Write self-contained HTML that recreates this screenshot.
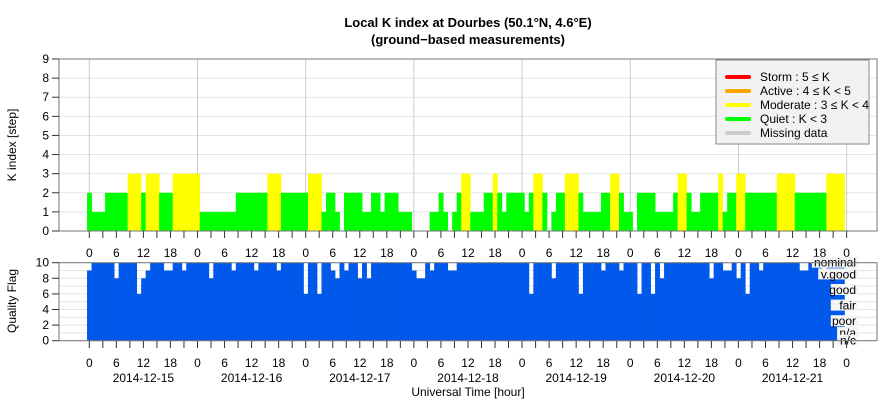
<!DOCTYPE html>
<html><head><meta charset="utf-8"><style>
body{margin:0;background:#fff}
svg{display:block;font-family:"Liberation Sans",sans-serif}
</style></head><body>
<svg id="chart" width="886" height="400" viewBox="0 0 886 400" xmlns="http://www.w3.org/2000/svg">
<text x="468" y="27" font-size="13" font-weight="bold" text-anchor="middle">Local K index at Dourbes (50.1°N, 4.6°E)</text>
<text x="468" y="44" font-size="13" font-weight="bold" text-anchor="middle">(ground−based measurements)</text>
<text transform="translate(16,145) rotate(-90)" font-size="12" text-anchor="middle">K index [step]</text>
<text transform="translate(16,301) rotate(-90)" font-size="12" text-anchor="middle">Quality Flag</text>
<text x="468" y="396" font-size="12" text-anchor="middle">Universal Time [hour]</text>
<g id="topPanel"></g><g id="botPanel"></g><g id="legendPanel"></g>
</svg>
<script>
const kValues=[2,1,1,1,2,2,2,2,2,3, 3,3,2,3,3,3,2,2,2,3, 3,3,3,3,3,1,1,1,1,1, 1,1,1,2,2,2,2,2,2,2,
3,3,3,2,2,2,2,2,2,3, 3,3,1,2,2,1,0,2,2,2, 2,1,1,2,2,1,2,2,2,1, 1,1,0,0,0,0,1,1,2,1,
0,1,2,3,3,1,1,1,2,2, 3,2,1,2,2,2,2,1,2,3, 3,2,0,1,2,2,3,3,3,2, 1,1,1,1,2,2,3,3,2,1,
1,0,2,2,2,2,1,1,1,1, 2,3,3,2,1,1,2,2,2,2, 3,1,2,2,3,3,2,2,2,2, 2,2,2,3,3,3,3,2,2,2, 2,2,2,2,3,3,3,3];
const qualityValues=[9,10,10,10,10,10,8,10,10,10, 10,6,8,9,10,10,10,9,9,10, 10,9,10,10,10,10,10,8,10,10,
10,10,9,10,10,10,10,9,10,10, 10,10,9,10,10,10,10,10,6,10, 10,6,10,10,9,8,10,9,10,10,
8,10,8,10,10,10,10,10,10,10, 10,10,9,8,8,10,9,10,10,10, 9,9,10,10,10,10,10,10,10,10,
10,10,10,10,10,10,10,10,6,10, 10,10,10,8,10,10,10,10,10,6, 10,10,10,10,9,10,10,10,9,10,
10,10,6,10,10,6,10,8,10,10, 10,10,10,10,10,10,10,10,8,10, 10,9,9,10,8,10,6,10,10,9,
10,10,10,10,10,10,10,10,9,9, 10,10,10,9,10,10,10,10];
const hourTicks=["0","6","12","18"];
const dateLabels=["2014-12-15","2014-12-16","2014-12-17","2014-12-18","2014-12-19","2014-12-20","2014-12-21"];
const kTicks=[0,1,2,3,4,5,6,7,8,9];
const qTicks=[0,2,4,6,8,10];
const qualityNames=["nominal","v.good","good","fair","poor","n/a","n/c"];
const qualityLevels=[10,8.5,6.5,4.5,2.5,1,0];

const NS="http://www.w3.org/2000/svg";
function mk(p,t,a){const e=document.createElementNS(NS,t);for(const k in a)e.setAttribute(k,a[k]);p.appendChild(e);return e;}
const X=h=>89.3+4.508*h;
const PL=59,PR=877;
const KY=k=>231-k*19.11;
const QY=q=>340.7-q*7.8;
const kColor=k=>k>=5?"#ff0000":k>=4?"#ffa500":k>=3?"#ffff00":"#00ff00";
const gTop=document.getElementById('topPanel'),gBot=document.getElementById('botPanel'),gLeg=document.getElementById('legendPanel');

kTicks.forEach(k=>{const l=mk(gTop,'line',{x1:PL,x2:PR,y1:KY(k),y2:KY(k),stroke:'#e4e4e4'});

});
for(let d=0;d<=7;d++){const l=mk(gTop,'line',{x1:X(d*24),x2:X(d*24),y1:59,y2:231,stroke:'#cccccc'});

}
kValues.forEach((k,i)=>{if(k<=0)return;const r=mk(gTop,'rect',{x:X(i-0.5),y:KY(k),width:4.908,height:KY(0)-KY(k),fill:kColor(k)});

});
const tb=mk(gTop,'rect',{x:PL,y:59,width:PR-PL,height:172,fill:'none',stroke:'#777'});


kTicks.forEach(k=>{mk(gTop,'line',{x1:52,x2:PL,y1:KY(k),y2:KY(k),stroke:'#333'});
const t=mk(gTop,'text',{x:49,y:KY(k)+4,'font-size':12,'text-anchor':'end'});t.textContent=k;

});

for(let q=0;q<=10;q++){const l=mk(gBot,'line',{x1:PL,x2:PR,y1:QY(q),y2:QY(q),stroke:'#e4e4e4'});

}
qualityValues.forEach((q,i)=>{const r=mk(gBot,'rect',{x:X(i-0.5),y:QY(q),width:4.908,height:QY(0)-QY(q),fill:'#0059ea'});

});
qualityNames.forEach((n,i)=>{const y=QY(qualityLevels[i])+4;
mk(gBot,'rect',{x:856-n.length*6.3,y:y-10,width:n.length*6.3+2,height:11,fill:'#f4f4f4'});
const t=mk(gBot,'text',{x:856,y:y,'font-size':12,'text-anchor':'end'});t.textContent=n;

});
const bb=mk(gBot,'rect',{x:PL,y:262.7,width:PR-PL,height:78,fill:'none',stroke:'#777'});


qTicks.forEach(q=>{mk(gBot,'line',{x1:52,x2:PL,y1:QY(q),y2:QY(q),stroke:'#333'});
const t=mk(gBot,'text',{x:49,y:QY(q)+4,'font-size':12,'text-anchor':'end'});t.textContent=q;

});

for(let h=0;h<=168;h+=3){
 mk(gTop,'line',{x1:X(h),x2:X(h),y1:231,y2:238,stroke:'#333'});
 mk(gBot,'line',{x1:X(h),x2:X(h),y1:341,y2:348,stroke:'#333'});
 if(h%6===0){const lab=hourTicks[(h%24)/6];
  const t1=mk(gTop,'text',{x:X(h),y:257,'font-size':12,'text-anchor':'middle'});t1.textContent=lab;
  
  
  const t2=mk(gBot,'text',{x:X(h),y:367,'font-size':12,'text-anchor':'middle'});t2.textContent=lab;
  
  }
}
dateLabels.forEach((d,i)=>{const t=mk(gBot,'text',{x:X(i*24+12),y:382,'font-size':12,'text-anchor':'middle'});t.textContent=d;

});

const legNames=["Storm : 5 ≤ K","Active : 4 ≤ K < 5","Moderate : 3 ≤ K < 4","Quiet : K < 3","Missing data"];
const legColors=["#ff0000","#ffa500","#ffff00","#00ff00","#cccccc"];
const box=mk(gLeg,'rect',{x:716,y:60,width:153,height:84,fill:'#f2f2f2',stroke:'#888'});


legNames.forEach((n,i)=>{const y=77+i*14;
 const g=mk(gLeg,'g',{});
 
 
 mk(g,'line',{x1:727,x2:749,y1:y,y2:y,stroke:legColors[i],'stroke-width':4,'stroke-linecap':'round'});
 const t=mk(g,'text',{x:760,y:y+4,'font-size':12});t.textContent=n;});
</script>
</body></html>
